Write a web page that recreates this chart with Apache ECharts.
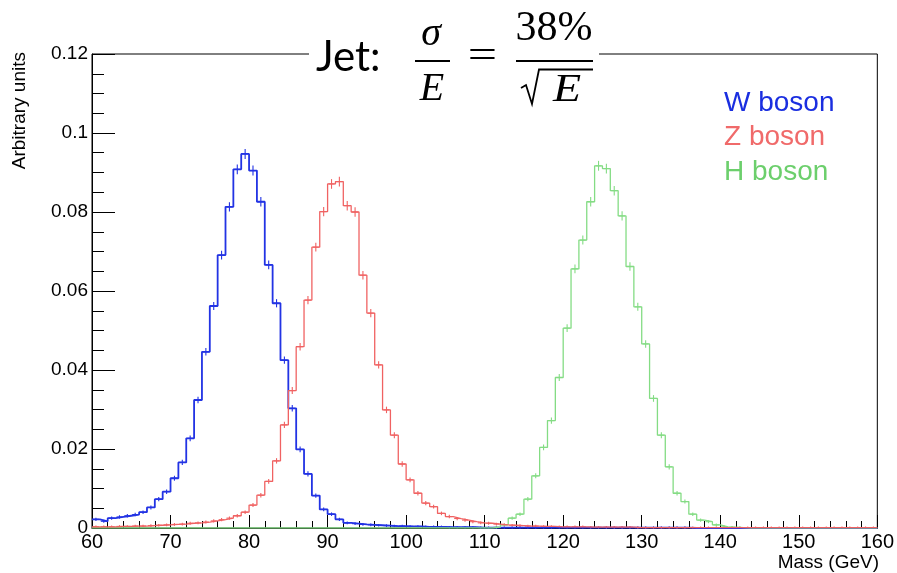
<!DOCTYPE html>
<html><head><meta charset="utf-8">
<script src="https://cdn.jsdelivr.net/npm/echarts@6/dist/echarts.min.js"></script>
<style>html,body{margin:0;padding:0;background:#fff}#c{width:897px;height:573px}</style>
</head><body><div id="c"></div>
<script>
// Histogram bins: 1 GeV wide, first bin starts at 60 GeV (100 bins, 60..160)
const binStart = 60;
const binWidth = 1;
const xTicks = [60, 70, 80, 90, 100, 110, 120, 130, 140, 150, 160];
const yTicks = [0, 0.02, 0.04, 0.06, 0.08, 0.1, 0.12];

const wBoson = [
  0.0022, 0.0017, 0.0025, 0.0028, 0.0031, 0.0034, 0.0040, 0.0052, 0.0073, 0.0092, // 60-69
  0.0126, 0.0166, 0.0227, 0.0324, 0.0446, 0.0562, 0.0691, 0.0813, 0.0908, 0.0947, // 70-79
  0.0905, 0.0826, 0.0666, 0.0569, 0.0425, 0.0303, 0.0199, 0.0137, 0.0082, 0.0047, // 80-89
  0.0035, 0.0022, 0.0013, 0.0011, 0.0009, 0.0008, 0.0007, 0.0006, 0.0005, 0.0005, // 90-99
  0.0004, 0.0004, 0.0003, 0.0003, 0.0003, 0.0002, 0.0002, 0.0002, 0.0002, 0.0001, // 100-109
  0.0001, 0.0001, 0.0001, 0.0001, 0.0001, 0.0001, 0.0001, 0.0001, 0.0001, 0.0001, // 110-119
  0.0001, 0.0001, 0.0001, 0.0001, 0.0001, 0.0001, 0.0001, 0.0001, 0.0001, 0.0001, // 120-129
  0.0001, 0.0001, 0.0001, 0.0001, 0.0001, 0.0001, 0, 0, 0, 0,                       // 130-139
  0, 0, 0, 0, 0, 0, 0, 0, 0, 0,                                                     // 140-149
  0, 0, 0, 0, 0, 0, 0, 0, 0, 0                                                      // 150-159
];
const zBoson = [
  0.0003, 0.0003, 0.0003, 0.0004, 0.0004, 0.0005, 0.0005, 0.0006, 0.0007, 0.0008, // 60-69
  0.0009, 0.0010, 0.0012, 0.0013, 0.0015, 0.0018, 0.0021, 0.0025, 0.0031, 0.0040, // 70-79
  0.0058, 0.0083, 0.0118, 0.0170, 0.0261, 0.0348, 0.0459, 0.0577, 0.0711, 0.0801, // 80-89
  0.0871, 0.0877, 0.0816, 0.0800, 0.0640, 0.0544, 0.0413, 0.0299, 0.0235, 0.0162, // 90-99
  0.0122, 0.0088, 0.0063, 0.0054, 0.0037, 0.0029, 0.0024, 0.0020, 0.0016, 0.0013, // 100-109
  0.0012, 0.0010, 0.0008, 0.0007, 0.0006, 0.0005, 0.0005, 0.0004, 0.0004, 0.0003, // 110-119
  0.0003, 0.0003, 0.0003, 0.0002, 0.0002, 0.0002, 0.0002, 0.0002, 0.0002, 0.0001, // 120-129
  0.0001, 0.0001, 0.0001, 0.0001, 0.0001, 0.0001, 0.0001, 0.0001, 0.0001, 0.0001, // 130-139
  0.0001, 0.0001, 0.0001, 0.0001, 0.0001, 0.0001, 0.0001, 0.0001, 0.0001, 0.0001, // 140-149
  0.0001, 0.0001, 0.0001, 0.0001, 0.0001, 0.0001, 0.0001, 0.0001, 0.0001, 0.0001  // 150-159
];
const hBoson = [
  0, 0, 0, 0, 0, 0, 0, 0, 0, 0,                                                     // 60-69
  0, 0, 0, 0, 0, 0, 0, 0, 0, 0,                                                     // 70-79
  0, 0, 0, 0, 0, 0, 0, 0, 0, 0,                                                     // 80-89
  0, 0, 0, 0, 0, 0, 0, 0, 0, 0,                                                     // 90-99
  0, 0, 0, 0, 0, 0, 0, 0, 0, 0,                                                     // 100-109
  0, 0.0002, 0.0008, 0.0025, 0.0035, 0.0073, 0.0132, 0.0204, 0.0272, 0.0381,        // 110-119
  0.0506, 0.0656, 0.0729, 0.0826, 0.0917, 0.0910, 0.0854, 0.0790, 0.0662, 0.0560, // 120-129
  0.0466, 0.0328, 0.0235, 0.0155, 0.0088, 0.0067, 0.0035, 0.0020, 0.0016, 0.0008, // 130-139
  0.0003, 0.0002, 0.0001, 0, 0, 0, 0, 0, 0, 0,                                      // 140-149
  0, 0, 0, 0, 0, 0, 0, 0, 0, 0                                                      // 150-159
];

const W = { name: 'W boson', values: wBoson, line: '#2233e4', text: '#1a2ee0', width: 1.8 };
const Z = { name: 'Z boson', values: zBoson, line: '#f06262', text: '#f06a6a', width: 1.3 };
const H = { name: 'H boson', values: hBoson, line: '#84dc84', text: '#6ccf6c', width: 1.3 };
const drawOrder = [W, H, Z];
const legendOrder = [W, Z, H];

function stepData(vals) {
  const d = vals.map((v, i) => [binStart + i * binWidth, v]);
  d.push([binStart + vals.length * binWidth, vals[vals.length - 1]]);
  return d;
}
function centerData(vals) {
  return vals.map((v, i) => [binStart + (i + 0.5) * binWidth, v]);
}

const series = [];
drawOrder.forEach(s => {
  series.push({
    type: 'line', name: s.name, data: stepData(s.values), step: 'end',
    symbol: 'none', lineStyle: { color: s.line, width: s.width }, silent: true
  });
  series.push({
    type: 'custom', name: s.name + ' err', data: centerData(s.values), silent: true,
    renderItem: (params, api) => {
      const x = api.value(0), v = api.value(1);
      if (!(v > 0)) return null;
      const c = api.coord([x, v]);
      const h = 1 + 4 * Math.sqrt(v / 0.095);
      const st = { stroke: s.line, lineWidth: 1.1 };
      return { type: 'group', children: [
        { type: 'line', shape: { x1: c[0], y1: c[1] - h, x2: c[0], y2: c[1] + h }, style: st },
        { type: 'line', shape: { x1: c[0] - 3, y1: c[1], x2: c[0] + 3, y2: c[1] }, style: st }
      ]};
    }
  });
});

const chart = echarts.init(document.getElementById('c'), null, { renderer: 'canvas' });
const black = '#000';
const legendY = [103.5, 137.5, 172];

chart.setOption({
  animation: false,
  backgroundColor: '#fff',
  grid: { left: 92, right: 18, top: 54, bottom: 45, show: true, borderColor: black, borderWidth: 1, backgroundColor: 'transparent' },
  xAxis: {
    type: 'value', min: xTicks[0], max: xTicks[xTicks.length - 1], interval: 10,
    axisLine: { show: true, onZero: false, lineStyle: { color: black, width: 1 } },
    axisTick: { show: true, inside: true, length: 13, lineStyle: { color: black, width: 1 } },
    minorTick: { show: true, splitNumber: 5, length: 7, lineStyle: { color: black, width: 1 } },
    splitLine: { show: false },
    axisLabel: { color: black, fontSize: 20, fontFamily: 'Liberation Sans', margin: 4 }
  },
  yAxis: {
    type: 'value', min: yTicks[0], max: yTicks[yTicks.length - 1], interval: 0.02,
    axisLine: { show: true, lineStyle: { color: black, width: 1 } },
    axisTick: { show: true, inside: true, length: 23, lineStyle: { color: black, width: 1 } },
    minorTick: { show: true, splitNumber: 4, length: 12, lineStyle: { color: black, width: 1 } },
    splitLine: { show: false },
    axisLabel: { color: black, fontSize: 19, fontFamily: 'Liberation Sans', margin: 4,
      formatter: v => String(+v.toFixed(2)) }
  },
  series: series,
  graphic: [
    { type: 'rect', z: 100, shape: { x: 309, y: 0, width: 290, height: 57 }, style: { fill: '#fff' } },
    { type: 'text', z: 101, x: 316, y: 57, style: { text: 'Jet:', font: '42px Lato', fill: black, textVerticalAlign: 'middle', textAlign: 'left' } },
    { type: 'text', z: 101, x: 431, y: 34, style: { text: 'σ', font: 'italic 40px "Liberation Serif"', fill: black, textVerticalAlign: 'middle', textAlign: 'center' } },
    { type: 'line', z: 101, shape: { x1: 415, y1: 61, x2: 450, y2: 61 }, style: { stroke: black, lineWidth: 1.8 } },
    { type: 'text', z: 101, x: 432, y: 89, style: { text: 'E', font: 'italic 40px "Liberation Serif"', fill: black, textVerticalAlign: 'middle', textAlign: 'center' } },
    { type: 'text', z: 101, x: 482.5, y: 57.5, scaleX: 1.3, style: { text: '=', font: '40px "Liberation Serif"', fill: black, textVerticalAlign: 'middle', textAlign: 'center' } },
    { type: 'text', z: 101, x: 554, y: 29, style: { text: '38%', font: '42px "Liberation Serif"', fill: black, textVerticalAlign: 'middle', textAlign: 'center' } },
    { type: 'line', z: 101, shape: { x1: 516, y1: 61, x2: 593, y2: 61 }, style: { stroke: black, lineWidth: 1.8 } },
    { type: 'polyline', z: 101, shape: { points: [[521, 88], [526, 85], [532, 104], [539, 69.5], [593, 69.5]] }, style: { stroke: black, lineWidth: 1.8, fill: null } },
    { type: 'text', z: 101, x: 567, y: 90, scaleX: 1.15, style: { text: 'E', font: 'italic 40px "Liberation Serif"', fill: black, textVerticalAlign: 'middle', textAlign: 'center' } },
    { type: 'text', z: 101, x: 879, y: 563, style: { text: 'Mass (GeV)', font: '19px "Liberation Sans"', fill: black, textVerticalAlign: 'middle', textAlign: 'right' } },
    { type: 'text', z: 101, x: 20, y: 52, rotation: Math.PI / 2, style: { text: 'Arbitrary units', font: '19px "Liberation Sans"', fill: black, textVerticalAlign: 'middle', textAlign: 'right' } }
  ].concat(legendOrder.map((s, i) => ({
    type: 'text', z: 101, x: 724, y: legendY[i],
    style: { text: s.name, font: '28px "Liberation Sans"', fill: s.text, textVerticalAlign: 'middle', textAlign: 'left' }
  })))
});
</script>
</body></html>
